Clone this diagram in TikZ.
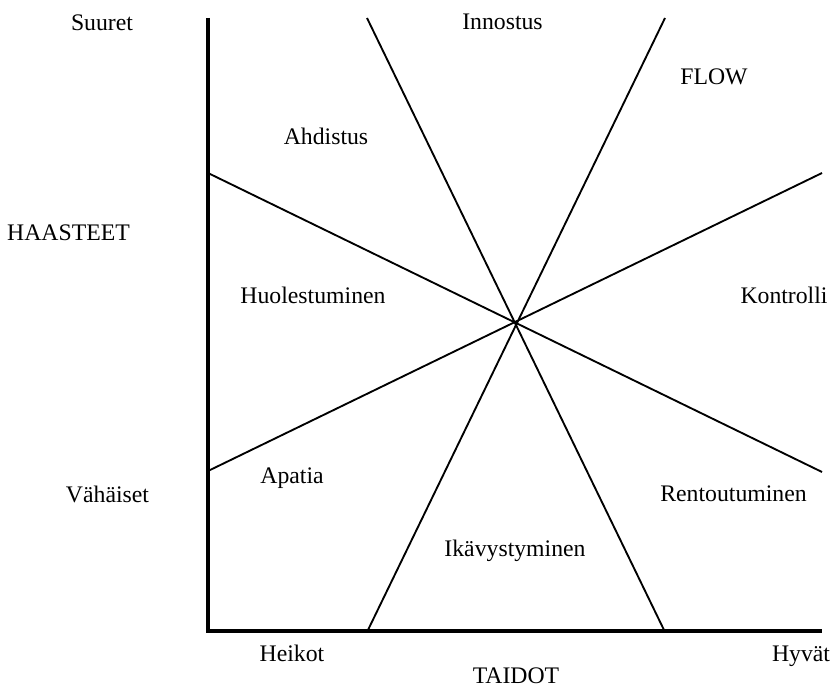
\documentclass[tikz,border=0pt]{standalone}
\usepackage{fontspec}
\setmainfont{Liberation Serif}
\begin{document}
\begin{tikzpicture}[x=0.75pt,y=-0.75pt,
  axis/.style={line width=3pt,line join=miter},
  zone/.style={line width=1.4pt},
  lbl/.style={anchor=base,inner sep=0pt,font=\fontsize{17.8}{21}\selectfont}]
\useasboundingbox (0,0) rectangle (835,688);

% axes
\coordinate (ytop) at (207.5,18);
\coordinate (orig) at (207.5,631);
\coordinate (xend) at (822,631);
\draw[axis] (ytop) -- (orig) -- (xend);

% end points of the four zone boundaries
\coordinate (t1) at (367,18);
\coordinate (b1) at (664.5,631);
\coordinate (t2) at (665,18);
\coordinate (b2) at (367.5,631);
\coordinate (l1) at (208,173);
\coordinate (r1) at (822,472);
\coordinate (l2) at (208,471);
\coordinate (r2) at (822,173);
\draw[zone] (t1) -- (b1);
\draw[zone] (t2) -- (b2);
\draw[zone] (l1) -- (r1);
\draw[zone] (l2) -- (r2);

% axis labels
\node[lbl] (suuret) at (102,30.7) {Suuret};
\node[lbl] (haasteet) at (68.5,240.7) {HAASTEET};
\node[lbl] (vahaiset) at (107.5,502.7) {Vähäiset};
\node[lbl] (heikot) at (292,661) {Heikot};
\node[lbl] (hyvat) at (801,661) {Hyvät};
\node[lbl] (taidot) at (516,683) {TAIDOT};

% zone labels
\node[lbl] (innostus) at (502.5,29.3) {Innostus};
\node[lbl] (flow) at (714,85) {FLOW};
\node[lbl] (ahdistus) at (326,144.3) {Ahdistus};
\node[lbl] (huoli) at (313,303) {Huolestuminen};
\node[lbl] (kontrolli) at (784,303) {Kontrolli};
\node[lbl] (apatia) at (292,483) {Apatia};
\node[lbl] (rento) at (733.5,501.7) {Rentoutuminen};
\node[lbl] (ikava) at (515,556) {Ikävystyminen};
\end{tikzpicture}
\end{document}
